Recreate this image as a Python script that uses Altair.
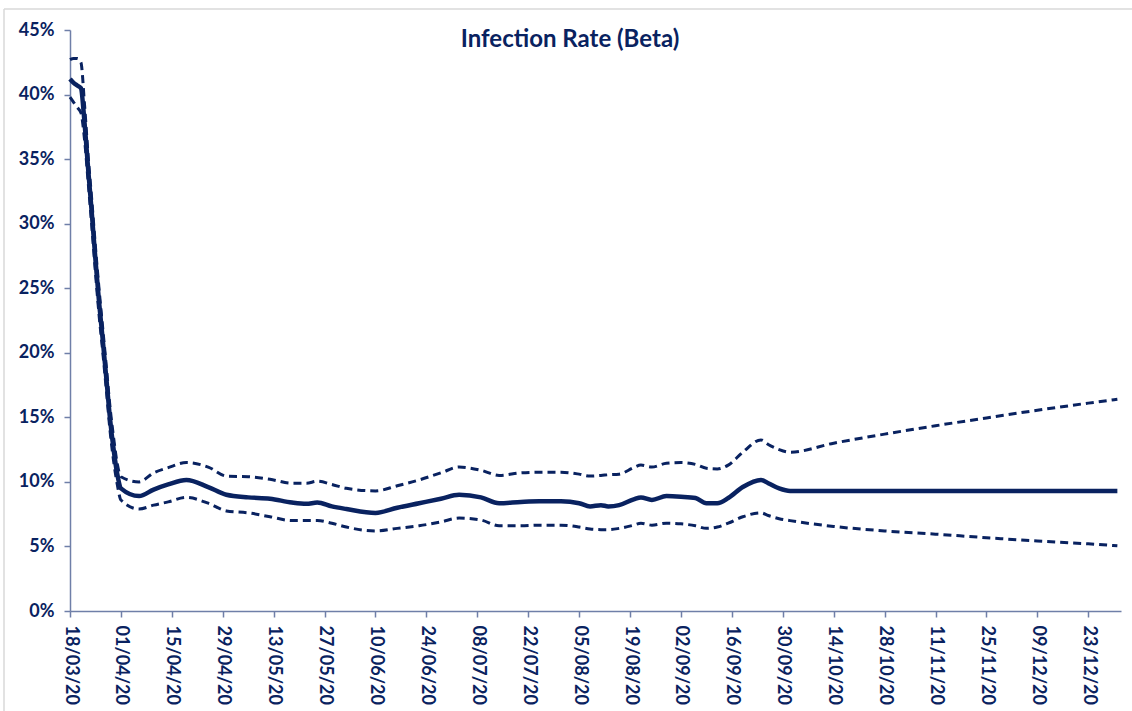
import altair as alt
import pandas as pd

TITLE = "Infection Rate (Beta)"

DATES = [
    "2020-03-18", "2020-03-19", "2020-03-20", "2020-03-21", "2020-03-22", "2020-03-23",
    "2020-03-24", "2020-03-25", "2020-03-26", "2020-03-27", "2020-03-28", "2020-03-29",
    "2020-03-30", "2020-03-31", "2020-04-01",
    "2020-04-06", "2020-04-10", "2020-04-14", "2020-04-19", "2020-04-25", "2020-04-30",
    "2020-05-06", "2020-05-12", "2020-05-18", "2020-05-22", "2020-05-25", "2020-05-29",
    "2020-06-02", "2020-06-10", "2020-06-16", "2020-06-22", "2020-06-28",
    "2020-07-03", "2020-07-09", "2020-07-14", "2020-07-20", "2020-07-25", "2020-07-31",
    "2020-08-05", "2020-08-08", "2020-08-11", "2020-08-13", "2020-08-16", "2020-08-20",
    "2020-08-22", "2020-08-25", "2020-08-29",
    "2020-09-02", "2020-09-06", "2020-09-09", "2020-09-12", "2020-09-15", "2020-09-19",
    "2020-09-24", "2020-09-26", "2020-09-29",
    "2020-10-02", "2020-10-14", "2020-10-28", "2020-11-11", "2020-11-25", "2020-12-09",
    "2020-12-23", "2020-12-31",
]

CENTRAL = [
    41.2, 40.9, 40.7, 40.5, 37.8, 34.2, 30.8, 27.2, 23.9, 21.0, 18.0, 14.9, 12.5, 10.6, 9.5,
    8.9, 9.4, 9.8, 10.15, 9.6, 9.0,
    8.8, 8.7, 8.4, 8.3, 8.4, 8.1,
    7.9, 7.6, 8.0, 8.35, 8.7,
    9.0, 8.8, 8.35, 8.45, 8.5, 8.5,
    8.35, 8.1, 8.2, 8.1, 8.2, 8.65, 8.8, 8.6, 8.9,
    8.85, 8.75, 8.35, 8.35, 8.75, 9.6, 10.15, 9.9, 9.5,
    9.3, 9.3, 9.3, 9.3, 9.3, 9.3, 9.3, 9.3,
]

UPPER = [
    42.7, 42.8, 42.8, 42.5, 39.2, 35.2, 31.8, 28.2, 24.9, 21.9, 18.9, 15.8, 13.4, 11.4, 10.4,
    10.0, 10.7, 11.1, 11.5, 11.15, 10.45,
    10.4, 10.2, 9.9, 9.9, 10.05, 9.8,
    9.5, 9.3, 9.7, 10.15, 10.7,
    11.15, 10.9, 10.5, 10.7, 10.75, 10.75,
    10.6, 10.45, 10.5, 10.55, 10.6, 11.1, 11.3, 11.15, 11.45,
    11.5, 11.35, 11.05, 11.0, 11.3, 12.3, 13.25, 12.9, 12.5,
    12.3, 13.0, 13.7, 14.35, 14.95, 15.55, 16.1, 16.4,
]

LOWER = [
    39.8, 39.4, 39.0, 38.6, 36.5, 33.2, 29.8, 26.2, 22.9, 20.1, 17.1, 14.0, 11.6, 9.8, 8.6,
    7.9, 8.2, 8.45, 8.8, 8.35, 7.75,
    7.6, 7.3, 7.0, 7.0, 7.0, 6.8,
    6.5, 6.2, 6.4, 6.6, 6.9,
    7.2, 7.05, 6.6, 6.6, 6.65, 6.65,
    6.5, 6.35, 6.3, 6.3, 6.4, 6.65, 6.8, 6.65, 6.8,
    6.75, 6.6, 6.4, 6.5, 6.8, 7.3, 7.6, 7.4, 7.15,
    7.0, 6.55, 6.2, 5.95, 5.68, 5.42, 5.2, 5.05,
]

TICK_DATES = [
    "2020-03-18", "2020-04-01", "2020-04-15", "2020-04-29", "2020-05-13", "2020-05-27",
    "2020-06-10", "2020-06-24", "2020-07-08", "2020-07-22", "2020-08-05", "2020-08-19",
    "2020-09-02", "2020-09-16", "2020-09-30", "2020-10-14", "2020-10-28", "2020-11-11",
    "2020-11-25", "2020-12-09", "2020-12-23",
]
Y_TICKS = [0, 5, 10, 15, 20, 25, 30, 35, 40, 45]

NAVY = "#092260"
AXIS = "#6F7FA8"
FONT = "Lato"


def dt(s):
    y, m, d = (int(p) for p in s.split("-"))
    return alt.DateTime(year=y, month=m, date=d)


df = pd.DataFrame({
    "date": pd.to_datetime(DATES),
    "central": CENTRAL,
    "upper": UPPER,
    "lower": LOWER,
})

x_enc = alt.X(
    "date:T",
    title=None,
    scale=alt.Scale(domain=[dt("2020-03-18"), dt("2021-01-01")]),
    axis=alt.Axis(
        values=[dt(s) for s in TICK_DATES],
        format="%d/%m/%y",
        labelAngle=90,
        labelAlign="left",
        labelBaseline="middle",
        labelPadding=8,
        tickSize=6,
        labelOverlap=False,
    ),
)


def y_enc(field):
    return alt.Y(
        f"{field}:Q",
        title=None,
        scale=alt.Scale(domain=[0, 45], nice=False),
        axis=alt.Axis(values=Y_TICKS, labelExpr="datum.value + '%'", tickSize=6, labelPadding=10),
    )


base = alt.Chart(df)

upper = base.mark_line(color=NAVY, strokeWidth=3, strokeDash=[8, 5], interpolate="monotone").encode(
    x=x_enc, y=y_enc("upper")
)
lower = base.mark_line(color=NAVY, strokeWidth=3, strokeDash=[8, 5], interpolate="monotone").encode(
    x=x_enc, y=y_enc("lower")
)
central = base.mark_line(color=NAVY, strokeWidth=4.5, interpolate="monotone").encode(
    x=x_enc, y=y_enc("central")
)

title = alt.Chart(pd.DataFrame({"t": [TITLE]})).mark_text(
    font=FONT, fontSize=24, fontWeight="bold", color=NAVY, align="center", baseline="middle"
).encode(x=alt.value(500), y=alt.value(10), text="t:N")

border_left = alt.Chart(pd.DataFrame({"a": [0]})).mark_rule(color="#D9D9D9", strokeWidth=1.5).encode(
    x=alt.value(-66), y=alt.value(-21), y2=alt.value(690)
)
border_top = alt.Chart(pd.DataFrame({"a": [0]})).mark_rule(color="#D9D9D9", strokeWidth=1.5).encode(
    x=alt.value(-66), x2=alt.value(1062), y=alt.value(-21)
)

chart = alt.layer(border_left, border_top, upper, lower, central, title).properties(
    width=1051,
    height=581,
    autosize=alt.AutoSizeParams(type="none"),
    padding={"left": 70, "top": 30, "right": 11, "bottom": 100},
).configure_view(stroke=None).configure_axis(
    grid=False,
    domainColor=AXIS,
    domainWidth=1.5,
    tickColor=AXIS,
    tickWidth=1.5,
    labelColor=NAVY,
    labelFont=FONT,
    labelFontWeight="bold",
    labelFontSize=18,
)

chart.save("out.html", embed_options={"renderer": "svg", "actions": False})
